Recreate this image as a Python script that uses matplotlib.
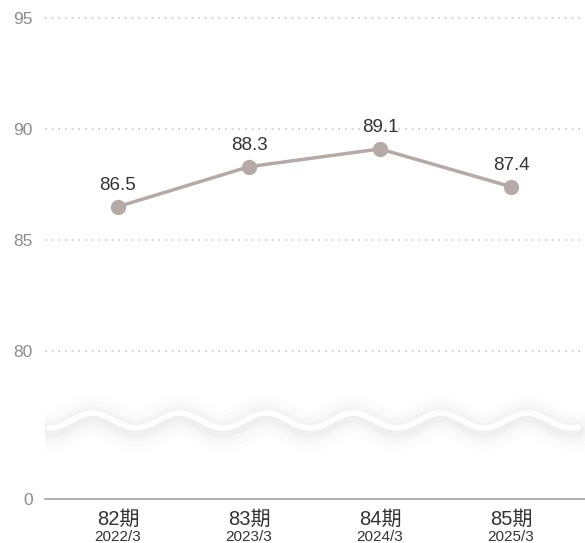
import numpy as np
import matplotlib
matplotlib.use("Agg")
import matplotlib.pyplot as plt
from matplotlib import transforms

plt.rcParams['font.family'] = ['Liberation Sans', 'Noto Sans CJK JP', 'DejaVu Sans']

periods = ['82期', '83期', '84期', '85期']
dates = ['2022/3', '2023/3', '2024/3', '2025/3']
values = [86.5, 88.3, 89.1, 87.4]
yticks = [0, 80, 85, 90, 95]

BREAK_LOW = 73.33  # display position of value 0

def fwd(v):
    v = np.asarray(v, dtype=float)
    return np.where(v >= 80, v, BREAK_LOW + v * (80 - BREAK_LOW) / 80.0)

def inv(d):
    d = np.asarray(d, dtype=float)
    return np.where(d >= 80, d, (d - BREAK_LOW) * 80.0 / (80 - BREAK_LOW))

W, H = 585, 543
AX_L, AX_B, AX_W, AX_H = 45, 44, 540, 489.9
fig = plt.figure(figsize=(W/100, H/100), dpi=100)
ax = fig.add_axes([AX_L/W, AX_B/H, AX_W/W, AX_H/H])
ax.set_yscale('function', functions=(fwd, inv))
ax.set_ylim(0, 95.4)
ax.set_xlim(-0.557, 3.565)

# grid lines
for t in yticks[1:]:
    ax.axhline(t, color='#c8c8c8', lw=1.2, linestyle=(0, (1, 3)), zorder=1)
for s in ax.spines.values():
    s.set_visible(False)
ax.axhline(0, color='#a0a0a0', lw=1.2, zorder=2, clip_on=False)

ax.set_yticks(yticks)
ax.set_yticklabels([str(t) for t in yticks])
ax.tick_params(axis='y', length=0, pad=9, labelsize=12.5, labelcolor='#8c8c8c')

x = np.arange(len(values))
ax.set_xticks(x)
ax.set_xticklabels(periods)
ax.tick_params(axis='x', length=0, pad=8, labelsize=14.5, labelcolor='#333333')
trans = transforms.blended_transform_factory(ax.transData, ax.transAxes)
for i, d in enumerate(dates):
    ax.text(i, -(537 - 499) / AX_H, d, transform=trans, ha='center', va='center',
            fontsize=11, color='#333333')

# wave break drawn in axes-fraction coordinates
wx = np.linspace(49, 578, 600)
wy_px = 420.5 + 7.5 * np.cos(2 * np.pi * (wx - 49) / 87.0)
wxa = (wx - AX_L) / AX_W
wya = (499 - wy_px) / AX_H
sh = (499 - wy_px - 3) / AX_H
for lw, a in [(30, 0.010), (24, 0.012), (19, 0.016), (15, 0.02), (11, 0.025), (8, 0.03)]:
    ax.plot(wxa, sh, color='#8a8080', lw=lw, alpha=a, solid_capstyle='round',
            transform=ax.transAxes, zorder=3)
ax.plot(wxa, wya, color='white', lw=4, solid_capstyle='round',
        transform=ax.transAxes, zorder=4)

ax.plot(x, values, color='#b5aaa6', lw=2.5, marker='o', markersize=10,
        markerfacecolor='#b5aaa6', markeredgecolor='#b5aaa6', zorder=5)
for i, v in enumerate(values):
    ax.annotate(f'{v:.1f}', (i, v), xytext=(0, 9), textcoords='offset points',
                ha='center', va='bottom', fontsize=13.5, color='#333333', zorder=6)

fig.savefig('out.png', dpi=100)
